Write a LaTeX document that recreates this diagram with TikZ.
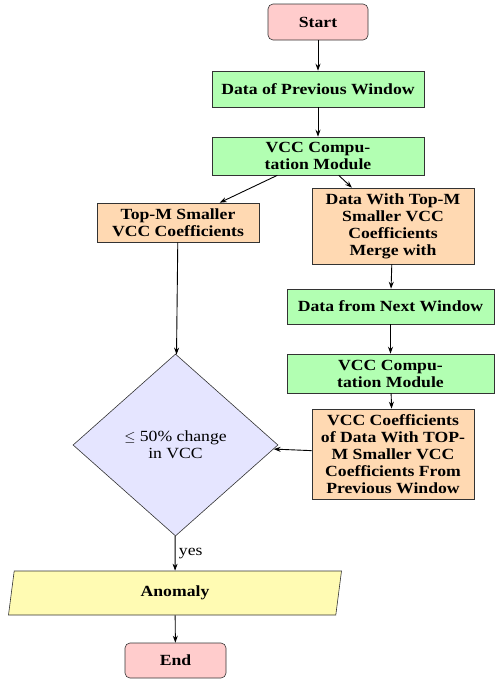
\documentclass[tikz,border=0pt]{standalone}
\usepackage{amsmath,amssymb}
\usepackage{fontspec}
\setmainfont[FakeStretch=1.14]{Liberation Serif}
\usetikzlibrary{arrows.meta,shapes.geometric}

\begin{document}
\begin{tikzpicture}[x=1pt,y=-1pt]
\tikzset{
  flownode/.style={draw=black!80,line width=0.6pt,inner sep=0pt,align=center,
    font=\fontsize{15.5}{17}\selectfont\bfseries},
  startstop/.style={flownode,rounded corners=5pt,fill=red!20},
  process/.style={flownode,rectangle,fill=green!30},
  result/.style={flownode,rectangle,fill=orange!30},
  decision/.style={flownode,diamond,fill=blue!10,font=\fontsize{15.5}{17}\selectfont},
  iobox/.style={flownode,trapezium,trapezium left angle=68,trapezium right angle=112,
    trapezium stretches body,fill=yellow!30},
  directed/.style={-{Stealth[length=7pt,width=5pt]},line width=0.9pt}
}
\useasboundingbox (0,0) rectangle (495,681);
\node[startstop,minimum width=100,minimum height=36] (n_start) at (318,22) {Start};
\node[process,minimum width=212,minimum height=36] (n_prev) at (318,89) {Data of Previous Window};
\node[process,minimum width=212,minimum height=38] (n_vcc) at (318,156) {VCC Compu-\\tation Module};
\node[result,minimum width=162,minimum height=39] (n_topm) at (178,222.5) {Top-M Smaller\\VCC Coefficients};
\node[result,minimum width=162,minimum height=76] (n_merge) at (393,226) {Data With Top-M\\Smaller VCC\\Coefficients\\Merge with};
\node[process,minimum width=207,minimum height=35] (n_next) at (390.5,306.5) {Data from Next Window};
\node[process,minimum width=207,minimum height=39] (n_vcc2) at (390.5,373.5) {VCC Compu-\\tation Module};
\node[result,minimum width=162,minimum height=90] (n_coef) at (393,454) {VCC Coefficients\\of Data With TOP-\\M Smaller VCC\\Coefficients From\\Previous Window};
\node[decision,minimum width=205,minimum height=182] (n_dec) at (175.5,445) {$\leq$ 50\% change\\in VCC};
\node[iobox,minimum width=333,minimum height=44] (n_anom) at (175,593) {Anomaly};
\node[startstop,minimum width=101,minimum height=35] (n_end) at (175.5,660.5) {End};
\draw[directed] (n_start) -- (n_prev);
\draw[directed] (n_prev) -- (n_vcc);
\draw[directed] (n_vcc) -- (n_topm);
\draw[directed] (n_vcc) -- (n_merge);
\draw[directed] (n_merge) -- (n_next);
\draw[directed] (n_next) -- (n_vcc2);
\draw[directed] (n_vcc2) -- (n_coef);
\draw[directed] (n_topm) -- (n_dec);
\draw[directed] (n_coef) -- (n_dec);
\draw[directed] (n_dec) -- node[right,font=\fontsize{15.5}{17}\selectfont] {yes} (n_anom);
\draw[directed] (n_anom) -- (n_end);
\end{tikzpicture}
\end{document}
